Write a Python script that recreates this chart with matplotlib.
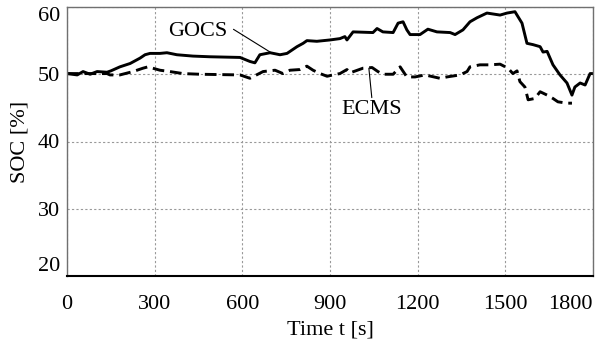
import matplotlib
matplotlib.use('Agg')
import matplotlib.pyplot as plt

# data (time in s, SOC in %)
t_gocs = [0, 35, 55, 79, 103, 137, 150, 181, 216, 250, 267, 284, 318, 342, 376, 431, 489,
          592, 626, 643, 660, 695, 729, 753, 770, 787, 808, 821, 855, 900, 934, 951, 958,
          979, 1047, 1061, 1081, 1116, 1133, 1150, 1163, 1174, 1208, 1235, 1266, 1311,
          1328, 1355, 1379, 1403, 1437, 1482, 1506, 1533, 1540, 1557, 1574, 1595, 1619,
          1629, 1643, 1663, 1687, 1711, 1728, 1738, 1756, 1773, 1790, 1800]
soc_gocs = [50.1, 49.9, 50.4, 50.0, 50.4, 50.3, 50.5, 51.1, 51.6, 52.4, 52.9, 53.1, 53.1,
            53.2, 52.9, 52.7, 52.6, 52.5, 51.9, 51.7, 52.9, 53.2, 52.9, 53.1, 53.6, 54.1,
            54.6, 55.0, 54.9, 55.1, 55.3, 55.6, 55.1, 56.3, 56.2, 56.8, 56.3, 56.2, 57.6,
            57.8, 56.6, 55.9, 55.9, 56.7, 56.3, 56.2, 55.9, 56.6, 57.8, 58.4, 59.1, 58.8,
            59.1, 59.3, 58.8, 57.6, 54.6, 54.4, 54.1, 53.3, 53.4, 51.4, 49.9, 48.7, 46.9,
            48.1, 48.7, 48.4, 50.1, 50.1]

t_ecms = [0, 137, 147, 181, 226, 260, 277, 318, 352, 397, 455, 592, 626, 671, 712, 739,
          763, 797, 821, 842, 866, 890, 910, 934, 958, 968, 1013, 1044, 1064, 1081, 1116,
          1140, 1163, 1191, 1225, 1276, 1300, 1345, 1369, 1379, 1413, 1447, 1482, 1509,
          1526, 1540, 1550, 1567, 1578, 1601, 1619, 1643, 1663, 1680, 1711, 1728]
soc_ecms = [50.1, 50.1, 49.9, 49.9, 50.4, 50.9, 51.1, 50.6, 50.4, 50.1, 50.0, 49.9, 49.4,
            50.4, 50.6, 50.1, 50.6, 50.7, 51.2, 50.6, 50.1, 49.7, 49.9, 50.1, 50.7, 50.2,
            50.9, 51.0, 50.4, 50.0, 50.0, 51.1, 49.6, 49.6, 49.9, 49.4, 49.6, 49.9, 50.4,
            51.1, 51.4, 51.4, 51.5, 50.9, 50.1, 50.5, 48.9, 48.1, 46.2, 46.4, 47.4, 46.9,
            46.4, 45.9, 45.7, 45.7]

xticks = [0, 300, 600, 900, 1200, 1500, 1800]
yticks = [20, 30, 40, 50, 60]

plt.rcParams['font.family'] = ['Liberation Serif', 'DejaVu Serif']
plt.rcParams['font.size'] = 16

fig = plt.figure(figsize=(5.96, 3.49), dpi=100)
ax = fig.add_axes([67/596, 1 - 276/349, 526/596, 269/349])

ax.plot(t_gocs, soc_gocs, color='black', lw=2.1, solid_joinstyle='round')
ax.plot(t_ecms, soc_ecms, color='black', lw=2.1, ls=(0, (4, 2)))

ax.set_xlim(0, 1800)
ax.set_ylim(20, 60)
ax.set_xticks(xticks)
ax.set_yticks(yticks)
ax.grid(True, color='#999999', ls=(0, (2, 2)), lw=0.8)
ax.tick_params(length=0)
ax.tick_params(axis='x', pad=14)
ax.tick_params(axis='y', pad=5)

# first/last labels kept inside the axes range like the original export
xl = ax.get_xticklabels()
xl[-1].set_ha('right')
yl = ax.get_yticklabels()
yl[0].set_va('bottom')
yl[-1].set_va('top')

for s in ['top', 'right', 'left']:
    ax.spines[s].set_color('#707070')
    ax.spines[s].set_linewidth(1.0)
ax.spines['bottom'].set_color('black')
ax.spines['bottom'].set_linewidth(1.5)

ax.set_xlabel('Time t [s]', labelpad=4)
ax.set_ylabel('SOC [%]', labelpad=6)

ax.annotate('GOCS', xy=(695, 53.3), xytext=(448, 56.4), ha='center', va='center',
            arrowprops=dict(arrowstyle='-', color='black', lw=0.8, shrinkA=0, shrinkB=0,
                            relpos=(1.1, 0.6)))
ax.annotate('ECMS', xy=(1033, 50.9), xytext=(1044, 44.7), ha='center', va='center',
            arrowprops=dict(arrowstyle='-', color='black', lw=0.8, shrinkA=0, shrinkB=0,
                            relpos=(0.5, 1.0)))

fig.savefig('out.png', dpi=100)
